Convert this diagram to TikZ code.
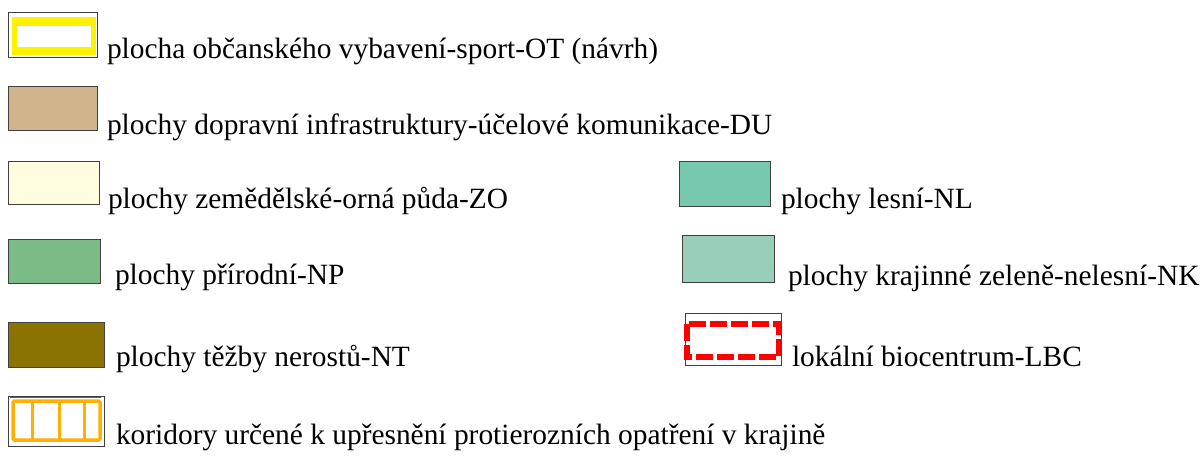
\documentclass[tikz,border=0pt]{standalone}
\usepackage{fontspec}
\setmainfont{Liberation Serif}
\definecolor{cDU}{HTML}{D2B48C}
\definecolor{cZO}{HTML}{FFFDE0}
\definecolor{cNL}{HTML}{76C8AE}
\definecolor{cNP}{HTML}{7BBB85}
\definecolor{cNK}{HTML}{99CFB8}
\definecolor{cNT}{HTML}{8B7300}
\definecolor{cOR}{HTML}{FFB000}
\begin{document}
\begin{tikzpicture}[x=1pt,y=-1pt,
  swatch/.style={draw=black!75,line width=1pt,inner sep=0pt,outer sep=0pt},
  lbl/.style={anchor=base west,inner sep=0pt,outer sep=0pt,font=\fontsize{29.4}{34}\selectfont}]
\useasboundingbox (0,0) rectangle (1201,455);
% OT
\node[swatch,fill=white,minimum width=89pt,minimum height=45pt,anchor=north west] (ot) at (8,12) {};
\fill[yellow] (12,17) rectangle (96,55);
\fill[white] (17,26) rectangle (91,47);
\node[lbl] (tot) at (107,58) {plocha občanského vybavení-sport-OT (návrh)};
% DU
\node[swatch,fill=cDU,minimum width=89pt,minimum height=44pt,anchor=north west] (du) at (8,86) {};
\node[lbl] (tdu) at (107,134) {plochy dopravní infrastruktury-účelové komunikace-DU};
% ZO
\node[swatch,fill=cZO,minimum width=91pt,minimum height=43pt,anchor=north west] (zo) at (8,161) {};
\node[lbl] (tzo) at (108,208) {plochy zemědělské-orná půda-ZO};
% NL
\node[swatch,fill=cNL,minimum width=91pt,minimum height=45pt,anchor=north west] (nl) at (679,161) {};
\node[lbl] (tnl) at (781,208) {plochy lesní-NL};
% NP
\node[swatch,fill=cNP,minimum width=92pt,minimum height=44pt,anchor=north west] (np) at (8,239) {};
\node[lbl] (tnp) at (115,284) {plochy přírodní-NP};
% NK
\node[swatch,fill=cNK,minimum width=92pt,minimum height=47pt,anchor=north west] (nk) at (682,235) {};
\node[lbl] (tnk) at (788,285) {plochy krajinné zeleně-nelesní-NK};
% NT
\node[swatch,fill=cNT,minimum width=96pt,minimum height=45pt,anchor=north west] (nt) at (8,322) {};
\node[lbl] (tnt) at (116,366) {plochy těžby nerostů-NT};
% LBC
\node[swatch,fill=white,minimum width=96pt,minimum height=52pt,anchor=north west] (lbc) at (685,313) {};
\draw[red,line width=6.5pt,dash pattern=on 17pt off 4pt] (687,324) rectangle (779,357);
\node[lbl] (tlbc) at (792,366) {lokální biocentrum-LBC};
% corridor
\node[swatch,fill=white,minimum width=96pt,minimum height=50pt,anchor=north west] (kor) at (8,396) {};
\draw[blue!70,line width=0.8pt] (10,397.5) -- (101,397.5);
\draw[cOR,line width=3.5pt,rounded corners=1.5pt] (13,401) rectangle (100,440);
\draw[cOR,line width=3pt] (32,401) -- (32,440) (59,401) -- (59,440) (84,401) -- (84,440);
\node[lbl] (tkor) at (116,444) {koridory určené k upřesnění protierozních opatření v krajině};
\end{tikzpicture}
\end{document}
